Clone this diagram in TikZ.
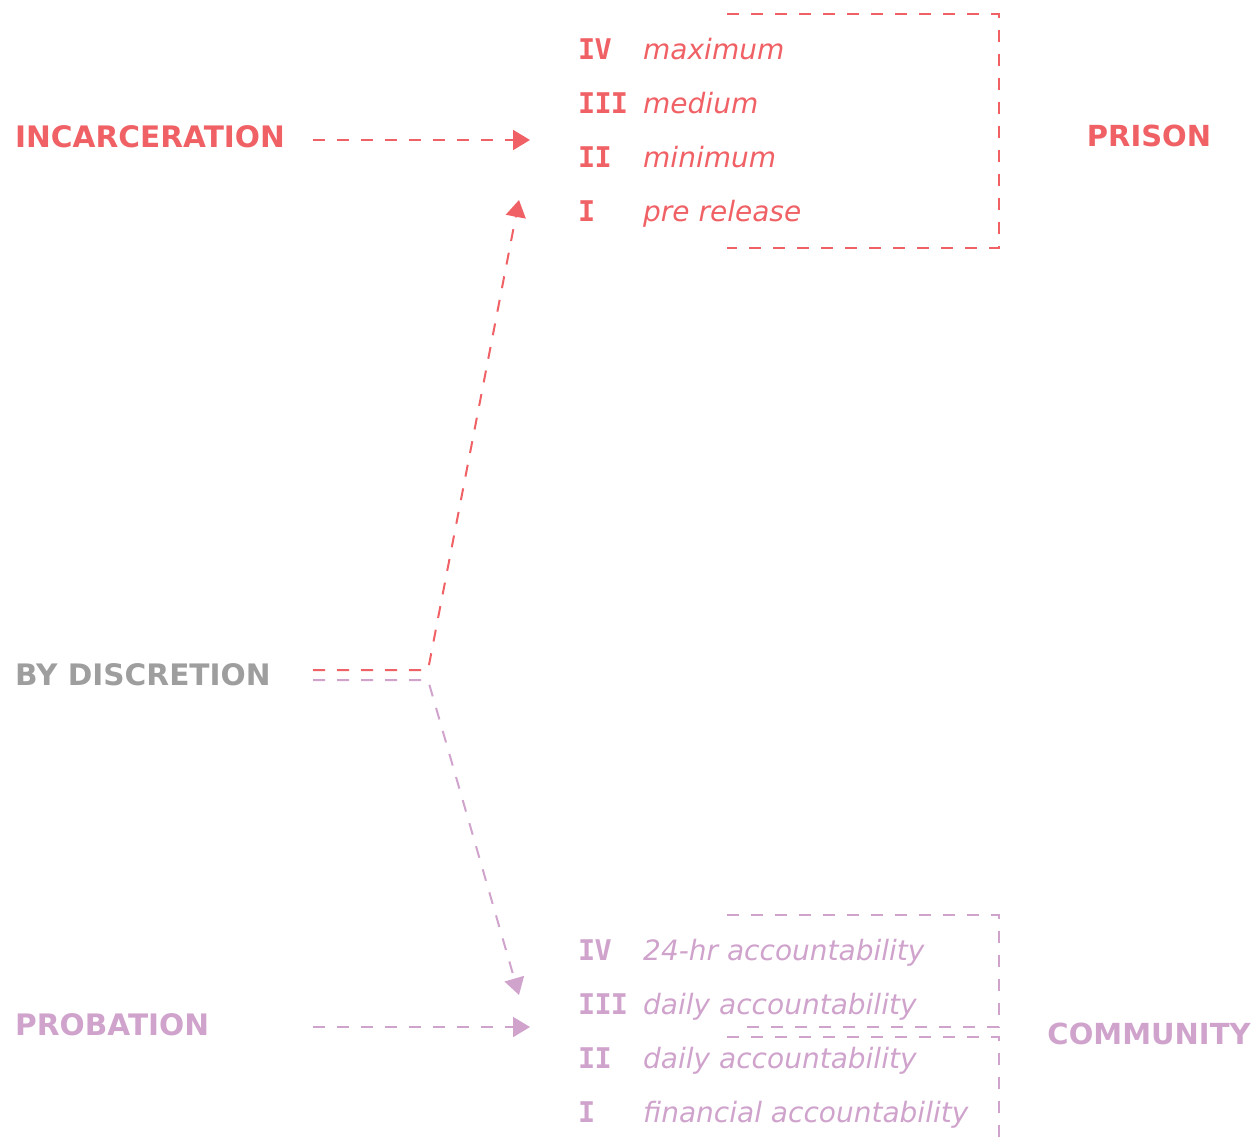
\documentclass[tikz,border=0pt]{standalone}
\usepackage{fontspec}
\setmainfont{DejaVu Sans}
\newfontfamily\numfont[LetterSpace=-3]{DejaVu Sans Mono}
\usetikzlibrary{arrows.meta}
\definecolor{cred}{HTML}{F06166}
\definecolor{cpur}{HTML}{CFA3CC}
\definecolor{cgray}{HTML}{9E9E9E}
\begin{document}
\begin{tikzpicture}[x=1pt,y=-1pt,
 lbl/.style={anchor=base west,inner sep=0pt,font=\fontsize{29.6}{29.6}\selectfont\bfseries},
 side/.style={anchor=base,inner sep=0pt,font=\fontsize{29}{29}\selectfont\bfseries},
 num/.style={anchor=base west,inner sep=0pt,font=\numfont\fontsize{28.5}{28.5}\selectfont\bfseries},
 itm/.style={anchor=base west,inner sep=0pt,font=\fontsize{28}{28}\selectfont\itshape},
 dline/.style={line width=2pt,dash pattern=on 12pt off 12pt},
 tipped/.style={dline,-{Triangle[length=17pt,width=20pt]}}]
\useasboundingbox (0,0) rectangle (1260,1146);
% left labels
\node[lbl,text=cred] (inc) at (15,147) {INCARCERATION};
\node[lbl,text=cgray] (disc) at (15,685) {BY DISCRETION};
\node[lbl,text=cpur] (prob) at (15,1035) {PROBATION};
% right labels
\node[side,text=cred] (prison) at (1149,146) {PRISON};
\node[side,text=cpur] (community) at (1149,1044) {COMMUNITY};
% prison levels
\foreach \n/\t/\y/\k in {IV/maximum/59/p4,III/medium/113/p3,II/minimum/167/p2,I/pre release/221/p1}{
  \node[num,text=cred] (\k n) at (578,\y) {\n};
  \node[itm,text=cred] (\k t) at (643,\y) {\t};
}
% community levels
\foreach \n/\t/\y/\k in {IV/24-hr accountability/960/c4,III/daily accountability/1014/c3,II/daily accountability/1068/c2,I/financial accountability/1122/c1}{
  \node[num,text=cpur] (\k n) at (578,\y) {\n};
  \node[itm,text=cpur] (\k t) at (643,\y) {\t};
}
% brackets
\draw[dline,cred] (727,14) -- (999,14) -- (999,248) -- (727,248);
\draw[dline,cpur] (727,915) -- (999,915) -- (999,1027) -- (737,1027);
\draw[dline,cpur] (727,1037) -- (999,1037) -- (999,1146);
% connector end points
\coordinate (incS) at (313,140);
\coordinate (prisonIn) at (530,140);
\coordinate (probS) at (313,1027);
\coordinate (commIn) at (530,1027);
\coordinate (discR) at (313,670);
\coordinate (discP) at (313,680);
\coordinate (bendR) at (428,670);
\coordinate (bendP) at (428,680);
\coordinate (prisonUp) at (519,200);
\coordinate (commDown) at (519,995);
% arrows
\draw[tipped,cred] (incS) -- (prisonIn);
\draw[tipped,cpur] (probS) -- (commIn);
\draw[tipped,cred] (discR) -- (bendR) -- (prisonUp);
\draw[tipped,cpur] (discP) -- (bendP) -- (commDown);
\end{tikzpicture}
\end{document}
